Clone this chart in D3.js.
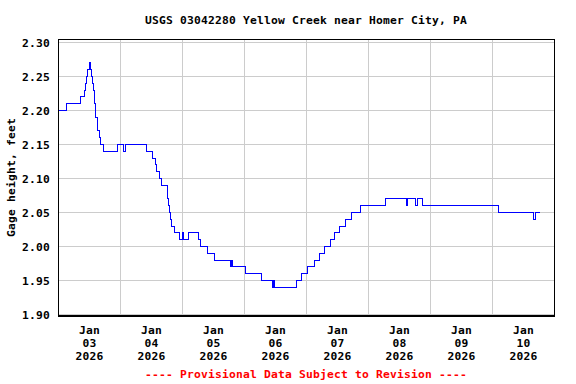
<!DOCTYPE html>
<html>
<head>
<meta charset="utf-8">
<script src="https://cdn.jsdelivr.net/npm/d3@7"></script>
<style>
  html, body { margin: 0; padding: 0; background: #fff; }
  svg text { font-family: "DejaVu Sans Mono", "Liberation Mono", monospace; font-weight: bold; font-size: 11.3px; letter-spacing: 0.2px; }
</style>
</head>
<body>
<div id="chart"></div>
<script>
// gage height readings (step changes), hours after Jan 03 2026 00:00
const obsHour = [0, 0.3, 3.1, 8.9, 10.1, 10.8, 11.2, 11.6, 12.1, 12.7, 13.0, 13.4, 13.8, 14.0, 14.2, 14.4, 14.7, 15.1, 15.4, 16.0,
  16.6, 17.5, 22.9, 25.4, 26.3, 34.1, 36.7, 37.7, 38.3, 39.3, 40.2, 42.2, 42.4, 42.8, 43.2, 43.6, 44.1, 45.0, 47.0, 48.2,
  48.4, 50.5, 54.4, 55.1, 57.9, 60.5, 66.6, 67.0, 67.7, 72.4, 78.7, 83.0, 83.3, 83.7, 92.2, 94.2, 96.6, 99.2, 101.1, 103.3,
  105.3, 106.9, 109.0, 111.1, 113.5, 117.0, 126.8, 135.0, 135.2, 138.3, 139.1, 141.1, 170.7, 184.0, 185.0, 186.6];
const gageHeight = [2.19, 2.20, 2.21, 2.22, 2.23, 2.24, 2.25, 2.26, 2.27, 2.26, 2.25, 2.24, 2.23, 2.22, 2.21, 2.20, 2.19, 2.18, 2.17, 2.16,
  2.15, 2.14, 2.15, 2.14, 2.15, 2.14, 2.13, 2.12, 2.11, 2.10, 2.09, 2.08, 2.07, 2.06, 2.05, 2.04, 2.03, 2.02, 2.01, 2.02,
  2.01, 2.02, 2.01, 2.00, 1.99, 1.98, 1.97, 1.98, 1.97, 1.96, 1.95, 1.94, 1.95, 1.94, 1.95, 1.96, 1.97, 1.98, 1.99, 2.00,
  2.01, 2.02, 2.03, 2.04, 2.05, 2.06, 2.07, 2.06, 2.07, 2.06, 2.07, 2.06, 2.05, 2.04, 2.05, 2.05];

const dayLabels = ["03", "04", "05", "06", "07", "08", "09", "10"];
const monthLabel = "Jan";
const yearLabel = "2026";
const yTicks = [1.90, 1.95, 2.00, 2.05, 2.10, 2.15, 2.20, 2.25, 2.30];

const titleText = "USGS 03042280 Yellow Creek near Homer City, PA";
const yLabelText = "Gage height, feet";
const footerText = "---- Provisional Data Subject to Revision ----";

const W = 576, H = 384;
const plot = { left: 58, right: 554, top: 39, bottom: 316 };
const start = Date.UTC(2026, 0, 3);
const hourMs = 3600 * 1000;

let data = obsHour.map((h, i) => ({ date: new Date(start + h * hourMs), value: gageHeight[i] }));

const svg = d3.select("#chart")
    .append("svg")
    .attr("width", W)
    .attr("height", H);

svg.append("rect").attr("width", W).attr("height", H).attr("fill", "#fff");

// scales
const x = d3.scaleUtc()
    .domain([new Date(start), new Date(start + 8 * 24 * hourMs)])
    .range([plot.left, plot.right]);
const y = d3.scaleLinear().domain([1.90, 2.30]).range([314.5, 42.5]);

// gridlines: horizontal every 0.05, vertical at each midnight
const grid = svg.append("g").attr("stroke", "#cccccc").attr("stroke-width", 1).attr("shape-rendering", "crispEdges");
grid.selectAll("line.h")
    .data(yTicks)
    .enter().append("line")
    .attr("x1", plot.left).attr("x2", plot.right)
    .attr("y1", d => y(d)).attr("y2", d => y(d));
grid.selectAll("line.v")
    .data(d3.range(1, dayLabels.length))
    .enter().append("line")
    .attr("x1", d => x(new Date(start + d * 24 * hourMs)) + 0.5)
    .attr("x2", d => x(new Date(start + d * 24 * hourMs)) + 0.5)
    .attr("y1", plot.top).attr("y2", plot.bottom);

// the gage height trace
const line = d3.line()
    .x(d => x(d.date))
    .y(d => y(d.value))
    .curve(d3.curveStepAfter);
svg.append("path")
    .datum(data)
    .attr("d", line)
    .attr("fill", "none")
    .attr("stroke", "#0000ff")
    .attr("stroke-width", 1)
    .attr("shape-rendering", "crispEdges");

// frame
svg.append("rect")
    .attr("x", plot.left + 0.5).attr("y", plot.top + 0.5)
    .attr("width", plot.right - plot.left).attr("height", plot.bottom - plot.top - 1)
    .attr("fill", "none").attr("stroke", "#000").attr("stroke-width", 1)
    .attr("shape-rendering", "crispEdges");
svg.append("line")
    .attr("x1", plot.left).attr("x2", plot.right + 1)
    .attr("y1", plot.bottom - 0.5).attr("y2", plot.bottom - 0.5)
    .attr("stroke", "#000").attr("stroke-width", 2)
    .attr("shape-rendering", "crispEdges");

// y tick labels
svg.append("g").selectAll("text")
    .data(yTicks)
    .enter().append("text")
    .attr("x", 50)
    .attr("y", d => y(d) + 4)
    .attr("text-anchor", "end")
    .text(d => d3.format(".2f")(d));

// x tick labels at noon of each day, three lines
const xLab = svg.append("g").selectAll("g")
    .data(dayLabels)
    .enter().append("g")
    .attr("transform", (d, i) => `translate(${x(new Date(start + (i * 24 + 12) * hourMs)) + 0.5},0)`);
xLab.append("text").attr("y", 334).attr("text-anchor", "middle").text(monthLabel);
xLab.append("text").attr("y", 347).attr("text-anchor", "middle").text(d => d);
xLab.append("text").attr("y", 360).attr("text-anchor", "middle").text(yearLabel);

// title, axis label, footer
const midX = (plot.left + plot.right) / 2;
svg.append("text").attr("x", midX).attr("y", 24).attr("text-anchor", "middle").text(titleText);
svg.append("text")
    .attr("transform", `translate(15, ${(plot.top + plot.bottom) / 2}) rotate(-90)`)
    .attr("text-anchor", "middle")
    .text(yLabelText);
svg.append("text").attr("x", midX).attr("y", 378).attr("text-anchor", "middle").attr("fill", "#ff0000").text(footerText);
</script>
</body>
</html>
